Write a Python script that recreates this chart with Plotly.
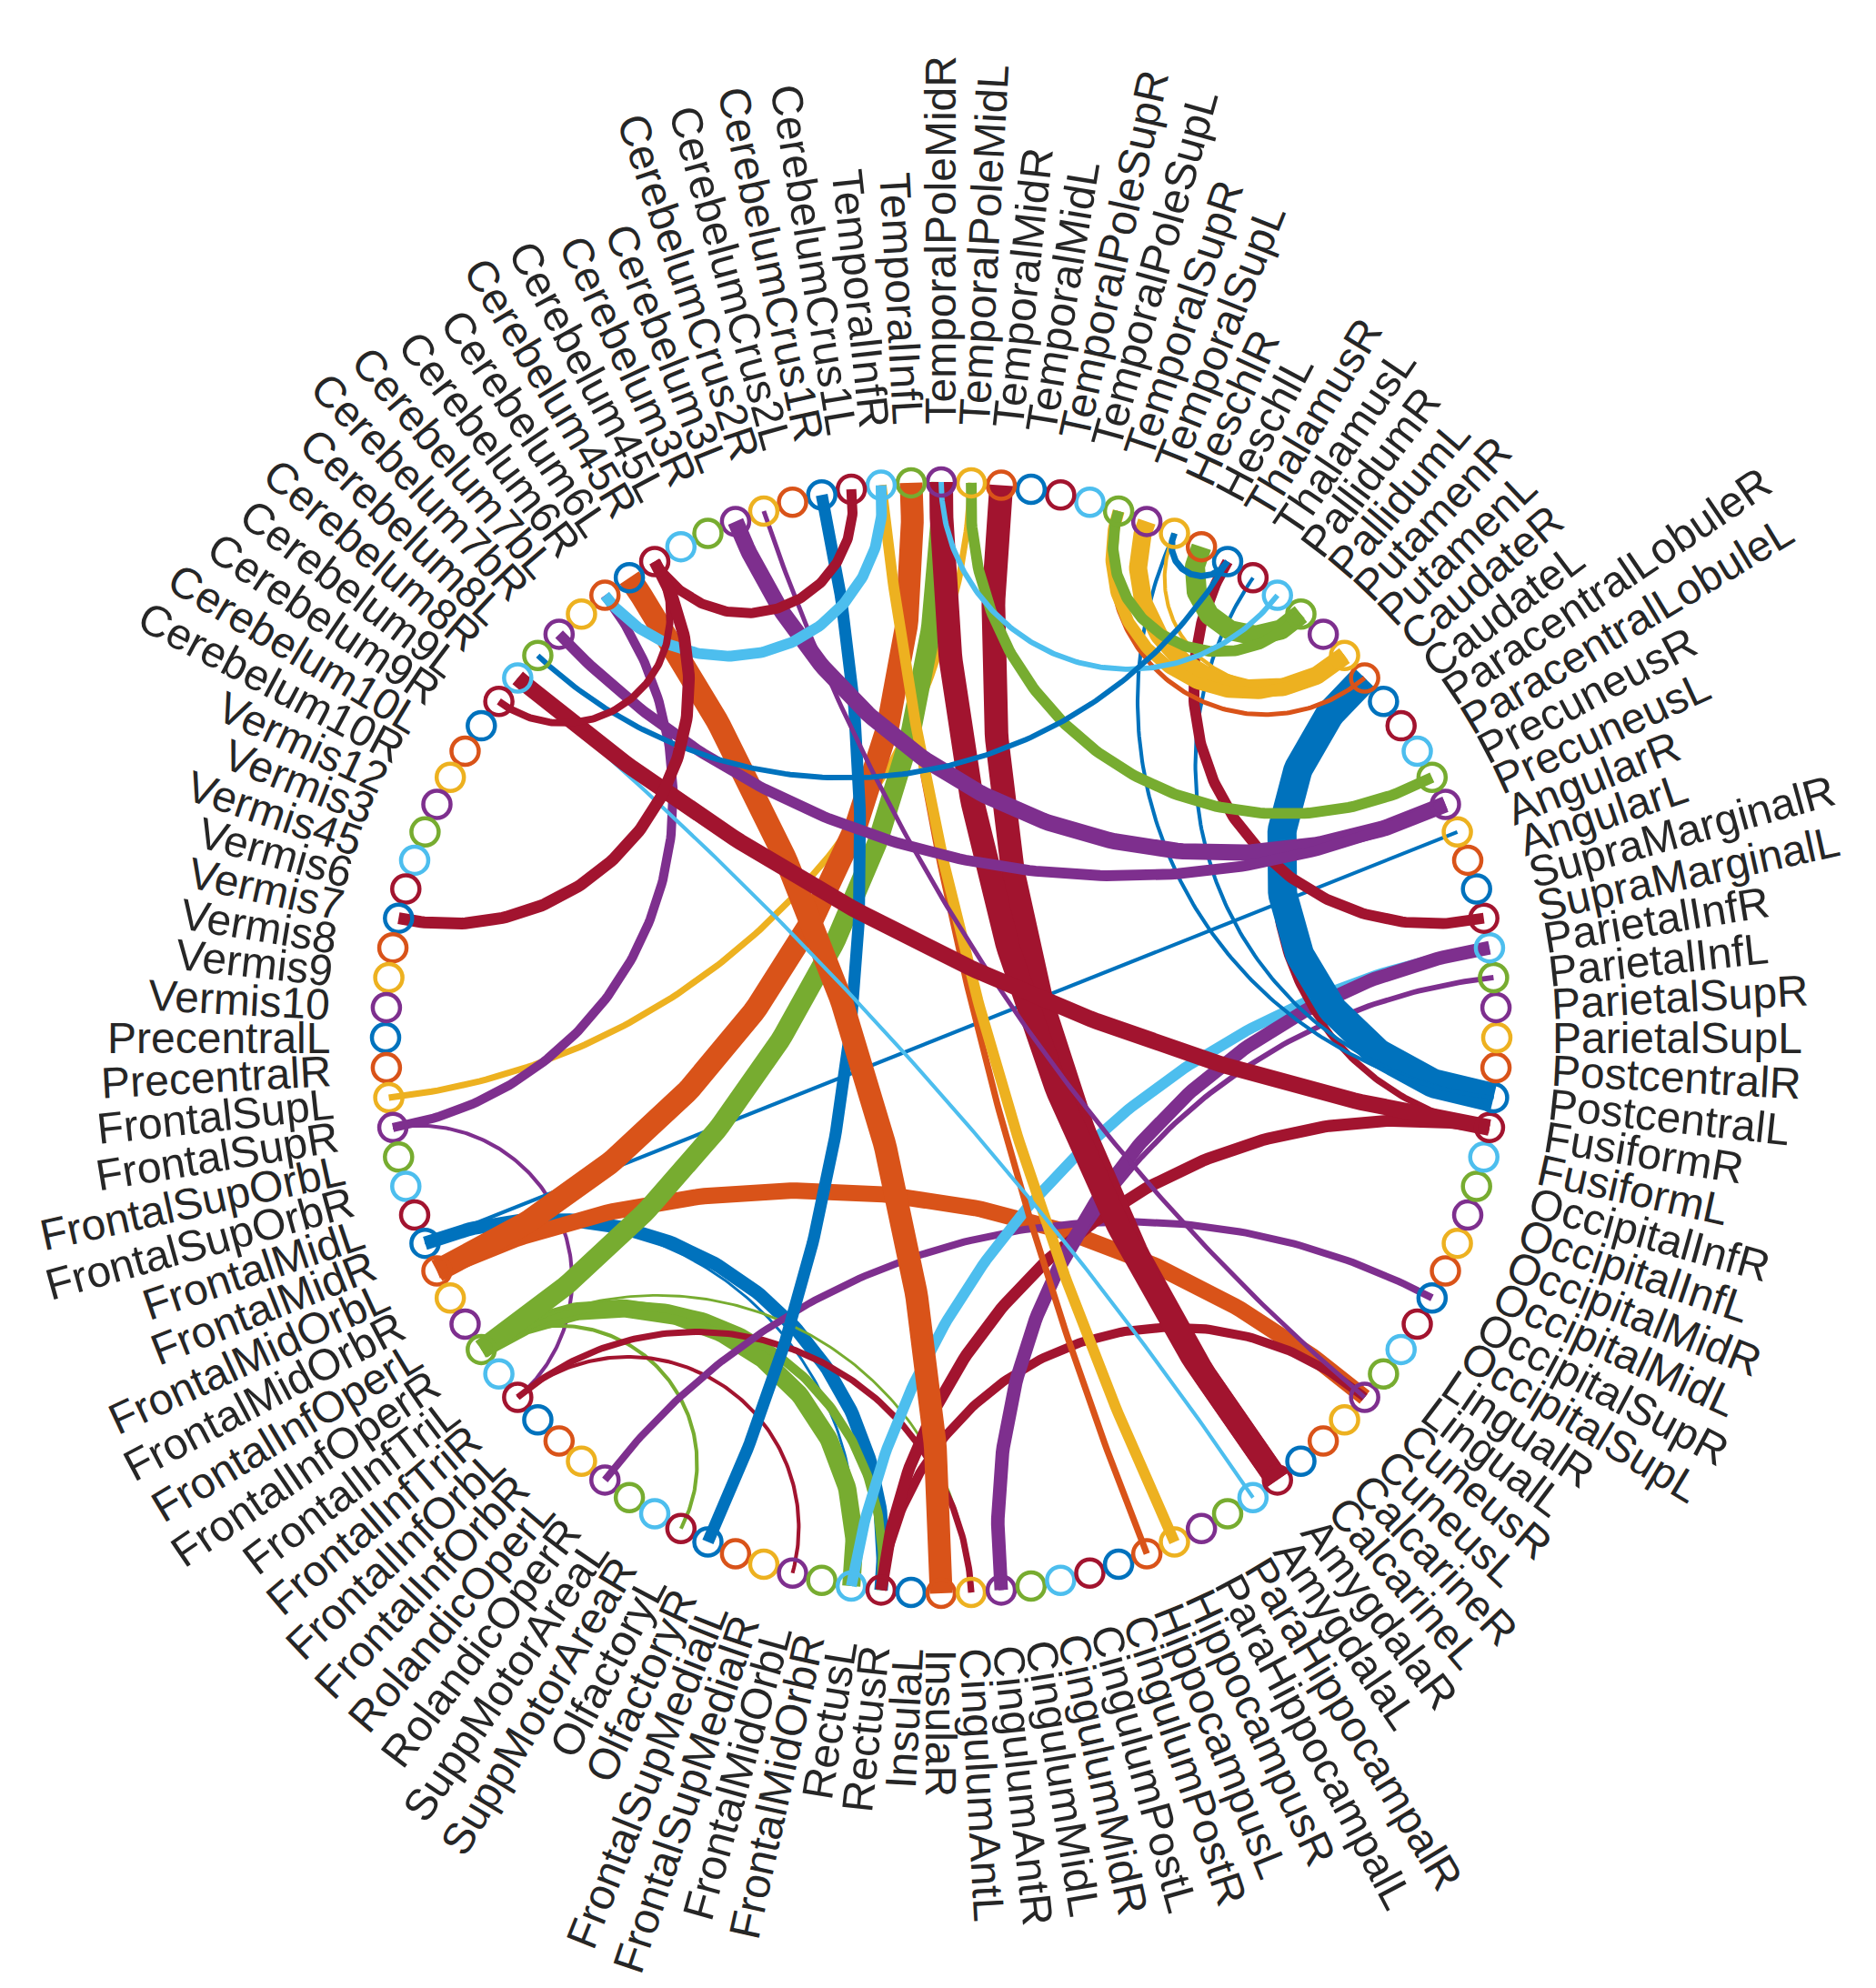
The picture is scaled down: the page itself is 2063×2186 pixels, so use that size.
import numpy as np
import plotly.graph_objects as go

# AAL regions, in the order they sit around the circle (counter-clockwise from the left)
regions = [
    "PrecentralL", "PrecentralR", "FrontalSupL", "FrontalSupR", "FrontalSupOrbL", "FrontalSupOrbR",
    "FrontalMidL", "FrontalMidR", "FrontalMidOrbL", "FrontalMidOrbR", "FrontalInfOperL", "FrontalInfOperR",
    "FrontalInfTriL", "FrontalInfTriR", "FrontalInfOrbL", "FrontalInfOrbR", "RolandicOperL", "RolandicOperR",
    "SuppMotorAreaL", "SuppMotorAreaR", "OlfactoryL", "OlfactoryR", "FrontalSupMedialL", "FrontalSupMedialR",
    "FrontalMidOrbL", "FrontalMidOrbR", "RectusL", "RectusR", "InsulaL", "InsulaR",
    "CingulumAntL", "CingulumAntR", "CingulumMidL", "CingulumMidR", "CingulumPostL", "CingulumPostR",
    "HippocampusL", "HippocampusR", "ParaHippocampalL", "ParaHippocampalR", "AmygdalaL", "AmygdalaR",
    "CalcarineL", "CalcarineR", "CuneusL", "CuneusR", "LingualL", "LingualR",
    "OccipitalSupL", "OccipitalSupR", "OccipitalMidL", "OccipitalMidR", "OccipitalInfL", "OccipitalInfR",
    "FusiformL", "FusiformR", "PostcentralL", "PostcentralR", "ParietalSupL", "ParietalSupR",
    "ParietalInfL", "ParietalInfR", "SupraMarginalL", "SupraMarginalR", "AngularL", "AngularR",
    "PrecuneusL", "PrecuneusR", "ParacentralLobuleL", "ParacentralLobuleR", "CaudateL", "CaudateR",
    "PutamenL", "PutamenR", "PallidumL", "PallidumR", "ThalamusL", "ThalamusR",
    "HeschlL", "HeschlR", "TemporalSupL", "TemporalSupR", "TemporalPoleSupL", "TemporalPoleSupR",
    "TemporalMidL", "TemporalMidR", "TemporalPoleMidL", "TemporalPoleMidR", "TemporalInfL", "TemporalInfR",
    "CerebelumCrus1L", "CerebelumCrus1R", "CerebelumCrus2L", "CerebelumCrus2R", "Cerebelum3L", "Cerebelum3R",
    "Cerebelum45L", "Cerebelum45R", "Cerebelum6L", "Cerebelum6R", "Cerebelum7bL", "Cerebelum7bR",
    "Cerebelum8L", "Cerebelum8R", "Cerebelum9L", "Cerebelum9R", "Cerebelum10L", "Cerebelum10R",
    "Vermis12", "Vermis3", "Vermis45", "Vermis6", "Vermis7", "Vermis8", "Vermis9", "Vermis10",
]

# connections: 1-based region numbers and estimated strength
edge_a = [3, 4, 4, 8, 8, 8, 9, 9, 12, 12, 12, 12, 12, 14, 14, 18, 22, 27, 28, 28,
          30, 32, 32, 37, 38, 41, 42, 42, 46, 56, 56, 57, 57, 57, 63, 67, 67, 68, 72,
          73, 73, 73, 75, 75, 76, 78, 78, 90, 91, 98, 98]
edge_b = [87, 14, 100, 27, 28, 66, 46, 89, 21, 27, 28, 31, 88, 25, 31, 50, 92, 62, 46, 56,
          99, 61, 62, 90, 90, 104, 86, 88, 94, 72, 104, 72, 77, 80, 78, 95, 102, 87, 82,
          80, 81, 82, 79, 82, 88, 80, 103, 100, 98, 105, 113]
edge_w = [0.17, 0.07, 0.27, 0.03, 0.43, 0.07, 0.53, 0.77, 0.07, 0.60, 0.27, 0.03, 0.67, 0.07, 0.17, 0.20,
          0.37, 0.33, 0.27, 0.37, 0.77, 0.13, 0.43, 0.17, 0.33, 0.07, 0.80, 0.80, 0.10, 0.17, 0.53,
          1.00, 0.07, 0.07, 0.33, 0.53, 0.33, 0.33, 0.10, 0.07, 0.60, 0.37, 0.67, 0.33, 0.13, 0.17,
          0.13, 0.33, 0.30, 0.20, 0.37]

palette = ["#0072BD", "#D95319", "#EDB120", "#7E2F8E", "#77AC30", "#4DBEEE", "#A2142F"]

n = len(regions)
t = np.linspace(-np.pi, np.pi, n + 1)[:-1]
node_x = np.cos(t)
node_y = np.sin(t)
node_colors = [palette[i % len(palette)] for i in range(n)]

# pixel geometry of the page
W, H = 2063, 2186
CX, CY, SCALE = 1027, 1133, 611.0
FONT_PX = 48
MIN_W, MAX_W = 2.0, 32.0

ARIAL = {
    "A": 667, "C": 722, "F": 611, "H": 722, "I": 278, "L": 556, "M": 833, "O": 778, "P": 667,
    "R": 722, "S": 667, "T": 611, "V": 667, "a": 556, "b": 556, "c": 500, "d": 556, "e": 556,
    "f": 278, "g": 556, "h": 556, "i": 222, "l": 222, "m": 833, "n": 556, "o": 556, "p": 556,
    "r": 333, "s": 500, "t": 278, "u": 556, "y": 500,
}


def text_width(s):
    return sum(ARIAL.get(ch, 556) for ch in s) / 1000.0 * FONT_PX / SCALE


def arc(i, j):
    u = np.array([node_x[i], node_y[i]])
    v = np.array([node_x[j], node_y[j]])
    if abs(i - j) == n / 2:
        return [u[0], v[0]], [u[1], v[1]]
    d = u[0] * v[1] - u[1] * v[0]
    x0 = -(u[1] - v[1]) / d
    y0 = (u[0] - v[0]) / d
    r = np.sqrt(x0 ** 2 + y0 ** 2 - 1)
    a1 = np.arctan2(u[1] - y0, u[0] - x0)
    a2 = np.arctan2(v[1] - y0, v[0] - x0)
    da = (a2 - a1 + np.pi) % (2 * np.pi) - np.pi
    th = a1 + da * np.linspace(0, 1, 150)
    return x0 + r * np.cos(th), y0 + r * np.sin(th)


fig = go.Figure()

wmax = max(edge_w)
order = sorted(range(len(edge_a)), key=lambda k: (max(edge_a[k], edge_b[k]), min(edge_a[k], edge_b[k])))
for k in order:
    a, b = edge_a[k] - 1, edge_b[k] - 1
    xs, ys = arc(a, b)
    fig.add_trace(go.Scatter(
        x=xs, y=ys, mode="lines",
        line=dict(color=node_colors[min(a, b)], width=MIN_W + (MAX_W - MIN_W) * edge_w[k] / wmax),
        hoverinfo="skip", showlegend=False,
    ))

fig.add_trace(go.Scatter(
    x=node_x, y=node_y, mode="markers", text=regions, hoverinfo="text",
    marker=dict(symbol="circle-open", size=30, color=node_colors,
                line=dict(width=4.5, color=node_colors)),
    showlegend=False,
))

annotations = []
for i, name in enumerate(regions):
    ang = t[i]
    if abs(ang) > np.pi / 2:
        rot = np.degrees(ang) + 180
    else:
        rot = np.degrees(ang)
    rc = 1.1 + text_width(name) / 2
    annotations.append(dict(
        x=rc * np.cos(ang), y=rc * np.sin(ang), xref="x", yref="y",
        text=name, showarrow=False, textangle=-rot,
        xanchor="center", yanchor="middle",
        font=dict(family="Liberation Sans, Arial, sans-serif", size=FONT_PX, color="#262626"),
    ))

fig.update_layout(
    width=W, height=H,
    margin=dict(l=0, r=0, t=0, b=0),
    paper_bgcolor="white", plot_bgcolor="white",
    xaxis=dict(visible=False, range=[-CX / SCALE, (W - CX) / SCALE], fixedrange=True),
    yaxis=dict(visible=False, range=[-(H - CY) / SCALE, CY / SCALE], fixedrange=True),
    annotations=annotations,
)

fig.write_html("out.html")
